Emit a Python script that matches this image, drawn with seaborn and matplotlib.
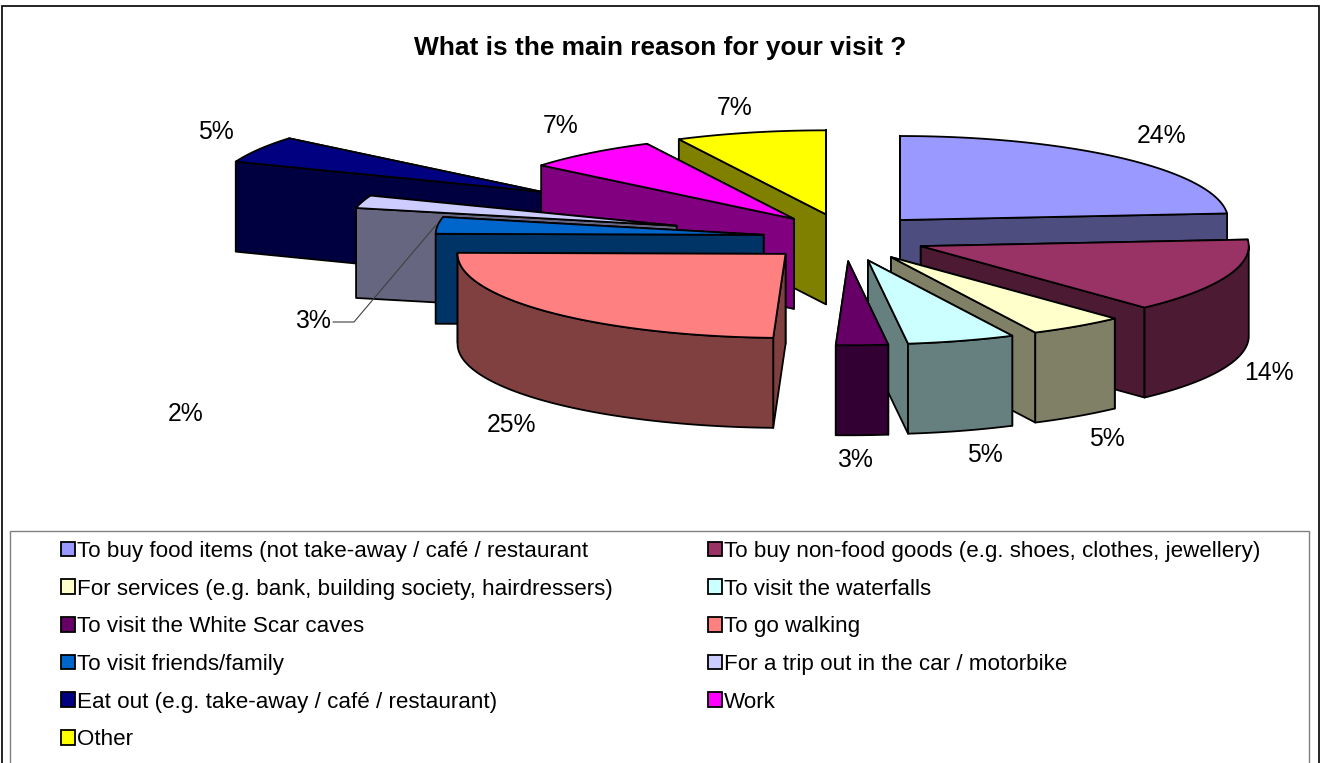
import numpy as np
import matplotlib
matplotlib.use("Agg")
import matplotlib.pyplot as plt
from matplotlib.patches import Rectangle, Patch
from matplotlib.colors import to_rgb
import seaborn as sns

title = "What is the main reason for your visit ?"
categories = [
    "To buy food items (not take-away / café / restaurant",
    "To buy non-food goods (e.g. shoes, clothes, jewellery)",
    "For services (e.g. bank, building society, hairdressers)",
    "To visit the waterfalls",
    "To visit the White Scar caves",
    "To go walking",
    "To visit friends/family",
    "For a trip out in the car / motorbike",
    "Eat out (e.g. take-away / café / restaurant)",
    "Work",
    "Other",
]
shares = [23.75, 14.3, 4.7, 5.3, 2.55, 24.6, 3.2, 2.45, 5.15, 6.6, 7.4]
share_labels = ["24%", "14%", "5%", "5%", "3%", "25%", "3%", "2%", "5%", "7%", "7%"]
colors = ["#9999FF", "#993366", "#FFFFCC", "#CCFFFF", "#660066", "#FF8080",
          "#0066CC", "#CCCCFF", "#000080", "#FF00FF", "#FFFF00"]

# layout (pixel space of the figure)
W, H = 1321, 763
CX, CY, RX, RY, DEPTH = 844.7, 237.5, 328, 84, 90
EX, EY = 81.6, 23.8
explode_x = [1, 1, 1, 1, 1, 1, 1, 2.15, 4.3, 1, 1]
explode_y = [1, 1, 1, 1, 1, 1, 1, 1.72, 3.8, 1, 1]
paint_order = [0, 1, 2, 3, 4, 8, 10, 9, 7, 6, 5]
label_xy = [(1162, 135), (1269, 372), (1107, 438), (985, 454), (855, 459), (512, 424),
            (313, 320), (186, 413), (216, 131), (561, 125), (735, 107)]
LW = 1.3

sns.set_theme(style="white")
plt.rcParams["font.family"] = ["Liberation Sans", "DejaVu Sans"]

fig = plt.figure(figsize=(W / 100, H / 100), dpi=100)
ax = fig.add_axes([0, 0, 1, 1])
ax.set_xlim(0, W)
ax.set_ylim(H, 0)
ax.axis("off")

ax.add_patch(Rectangle((2, 6), W - 4, H + 10, fc="white", ec="black", lw=1.2))
ax.add_patch(Rectangle((10, 531), W - 22, H, fc="white", ec="#808080", lw=1.0))

palette = sns.color_palette(colors)
edges = np.cumsum([0] + shares) / sum(shares) * 2 * np.pi


def poly(xs, ys, fc):
    ax.fill(xs, ys, fc=fc, ec="black", lw=LW, joinstyle="round")


for i in paint_order:
    a, b = edges[i], edges[i + 1]
    mid = (a + b) / 2
    x0 = CX + explode_x[i] * EX * np.sin(mid)
    y0 = CY - explode_y[i] * EY * np.cos(mid)
    top = palette[i]
    wall = tuple(np.array(to_rgb(top)) * 0.5)

    # radial side walls, the farther one first
    rim = sorted([a, b], key=lambda t: -np.cos(t))
    for t in rim:
        xe, ye = x0 + RX * np.sin(t), y0 - RY * np.cos(t)
        poly([x0, xe, xe, x0], [y0, ye, ye + DEPTH, y0 + DEPTH], wall)

    # outer curved wall, only on the front half
    lo, hi = max(a, np.pi / 2), min(b, 3 * np.pi / 2)
    if hi > lo:
        t = np.linspace(lo, hi, 80)
        xa, ya = x0 + RX * np.sin(t), y0 - RY * np.cos(t)
        poly(np.r_[xa, xa[::-1]], np.r_[ya, ya[::-1] + DEPTH], wall)

    # top face
    t = np.linspace(a, b, 80)
    poly(np.r_[x0, x0 + RX * np.sin(t)], np.r_[y0, y0 - RY * np.cos(t)], top)

for (lx, ly), s in zip(label_xy, share_labels):
    ax.text(lx, ly + 1, s, ha="center", va="center", fontsize=17.8, color="black")

ax.plot([333, 354, 436], [322, 322, 225], color="#404040", lw=0.8)

ax.text(660, 48, title, ha="center", va="center", fontsize=18.9, fontweight="bold", color="black")

handles = [Patch(fc=c, ec="black", lw=1.3) for c in colors]
order = [0, 2, 4, 6, 8, 10, 1, 3, 5, 7, 9]
ax.legend([handles[i] for i in order], [categories[i] for i in order],
          ncol=2, loc="upper left", bbox_to_anchor=(61, 541), bbox_transform=ax.transData,
          frameon=False, fontsize=16.1, handlelength=0.63, handleheight=0.63,
          handletextpad=0.1, labelspacing=0.745, columnspacing=4.24, borderpad=0, borderaxespad=0,
          labelcolor="black")

fig.savefig("out.png", dpi=100)
